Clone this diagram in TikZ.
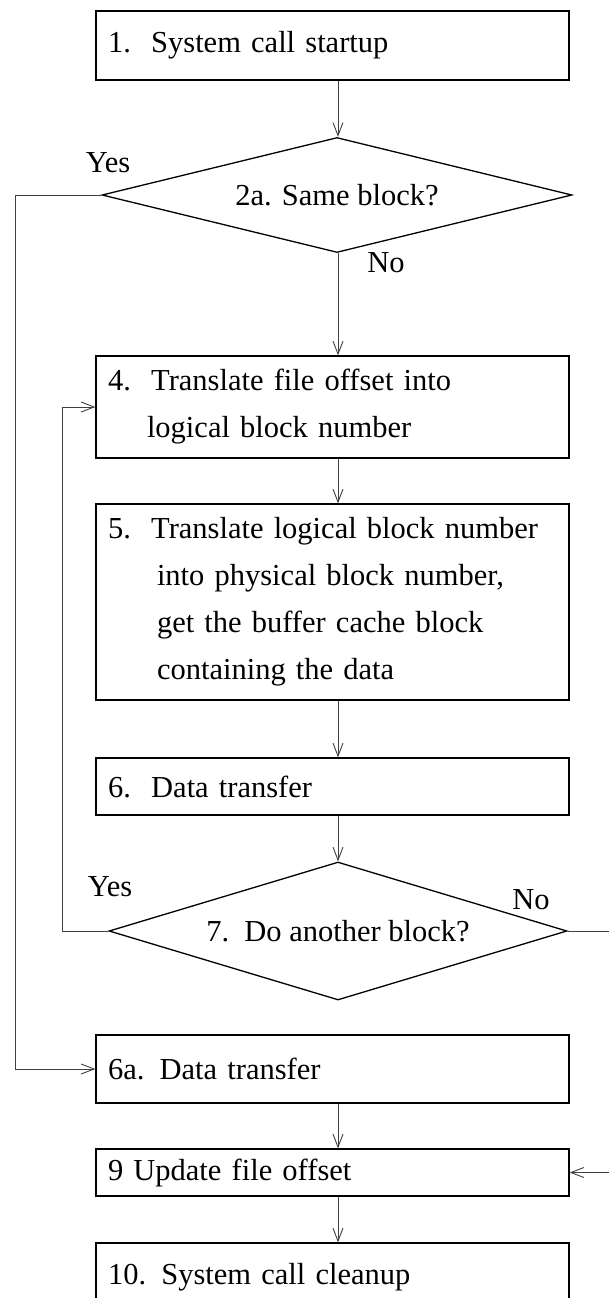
\documentclass[tikz,border=0pt]{standalone}
\usepackage{fontspec}
\setmainfont{Liberation Serif}
\usetikzlibrary{shapes.geometric,arrows.meta}

\begin{document}
\begin{tikzpicture}[x=1pt, y=-1pt, >={Straight Barb[length=13pt,width=10pt]}]
\tikzstyle{every node}=[font=\fontsize{30.5}{47}\selectfont, text=black]
\tikzstyle{stepbox}=[draw=black, line width=1.3pt, rectangle, text width=449pt, inner xsep=12pt, inner ysep=0pt, align=left]
\tikzstyle{decision}=[draw=black, line width=1.3pt, diamond, inner sep=0pt]
\tikzstyle{flow}=[->, draw=black!75, line width=0.9pt]
\useasboundingbox (0,0) rectangle (609,1298);

\node[stepbox, minimum height=69pt]  (startup) at (332.5,45.5) {1.\ \ System call startup};
\node[decision, aspect=4.087, minimum width=470pt, minimum height=115pt] (same) at (337,195) {2a. Same block?};
\node[stepbox, minimum height=102pt] (logical) at (332.5,407) {4.\ \ Translate file offset into\\\hspace*{39pt}logical block number};
\node[stepbox, minimum height=196pt] (physical) at (332.5,602) {5.\ \ Translate logical block number\\\hspace*{49pt}into physical block number,\\\hspace*{49pt}get the buffer cache block\\\hspace*{49pt}containing the data};
\node[stepbox, minimum height=57pt]  (xfer) at (332.5,786.5) {6.\ \ Data transfer};
\node[decision, aspect=3.319, minimum width=458pt, minimum height=138pt] (another) at (338,931) {7.\ \ Do another block?};
\node[stepbox, minimum height=68pt]  (xferone) at (332.5,1069) {6a. Data transfer};
\node[stepbox, minimum height=47pt]  (update) at (332.5,1172.5) {9 Update file offset};
\node[stepbox, minimum height=68pt]  (cleanup) at (332.5,1277) {10. System call cleanup};

\node (yesA) at (108,163) {Yes};
\node (noA)  at (386,263) {No};
\node (yesB) at (110,887) {Yes};
\node (noB)  at (531,900) {No};

% the main line down the middle, and the turning points of the loops
\coordinate (spine) at (338,0);
\coordinate (outL) at (15,195);
\coordinate (inL)  at (62,931);
\coordinate (outR) at (614,931);

\draw[flow] (startup.south -| spine) -- (same.north -| spine);
\draw[flow] (same.south -| spine) -- (logical.north -| spine);
\draw[flow] (logical.south -| spine) -- (physical.north -| spine);
\draw[flow] (physical.south -| spine) -- (xfer.north -| spine);
\draw[flow] (xfer.south -| spine) -- (another.north);
\draw[flow] (xferone.south -| spine) -- (update.north -| spine);
\draw[flow] (update.south -| spine) -- (cleanup.north -| spine);
\draw[flow] (same.west) -- (outL) |- (xferone.west);
\draw[flow] (another.west) -- (inL) |- (logical.west);
\draw[flow] (another.east) -- (outR) |- (update.east);
\end{tikzpicture}
\end{document}
